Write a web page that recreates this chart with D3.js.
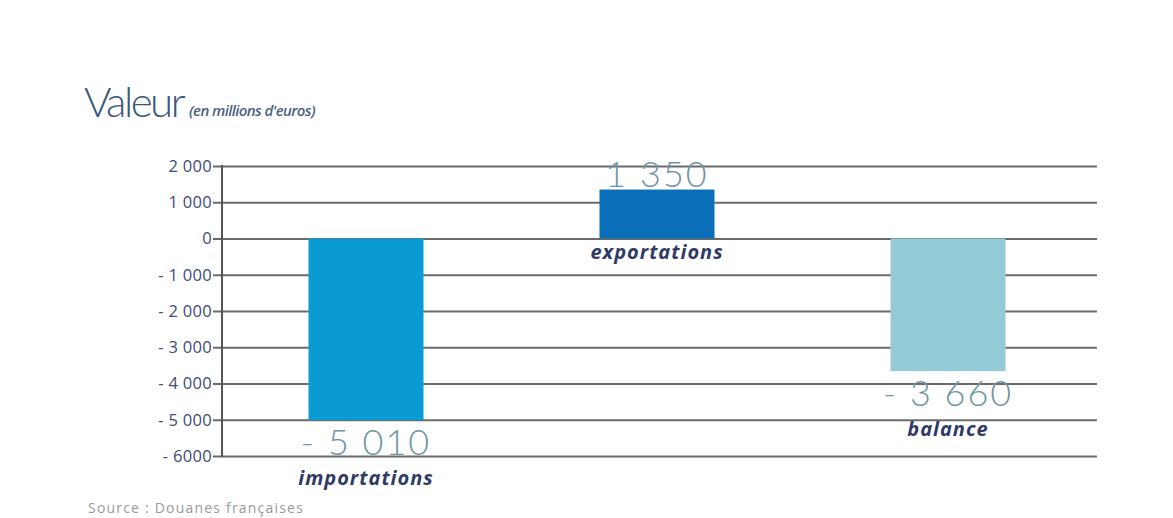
<!DOCTYPE html>
<html>
<head>
<meta charset="utf-8">
<script src="https://cdn.jsdelivr.net/npm/d3@7"></script>
<style>
  body { margin: 0; background: #fff; }
  svg { display: block; font-family: "Open Sans", sans-serif; }
</style>
</head>
<body>
<svg id="chart" width="1173" height="518"></svg>
<script>
// data
var categories = ["importations", "exportations", "balance"];
var values = [-5010, 1350, -3660];
var valueLabels = ["- 5 010", "1 350", "- 3 660"];
var barColors = ["#0a9bd2", "#0a6fb8", "#93cbd8"];
var tickValues = [2000, 1000, 0, -1000, -2000, -3000, -4000, -5000, -6000];
var tickLabels = ["2 000", "1 000", "0", "- 1 000", "- 2 000", "- 3 000", "- 4 000", "- 5 000", "- 6000"];

var svg = d3.select("#chart");

var plot = {left: 222, right: 1097, top: 166, bottom: 456};

var y = d3.scaleLinear()
  .domain([-6000, 2000])
  .range([plot.bottom, plot.top]);

var x = d3.scalePoint()
  .domain(categories)
  .range([366, 948]);

var barWidth = 115;

// title
svg.append("text")
  .attr("x", 84).attr("y", 117)
  .attr("fill", "#3b587c")
  .attr("font-family", "Lato, sans-serif")
  .attr("font-weight", 300)
  .attr("font-size", 42)
  .attr("letter-spacing", -2.5)
  .text("Valeur");

svg.append("text")
  .attr("x", 189).attr("y", 116)
  .attr("fill", "#4d5f86")
  .attr("font-style", "italic")
  .attr("font-weight", 600)
  .attr("font-size", 15)
  .attr("letter-spacing", -0.6)
  .text("(en millions d'euros)");

// gridlines + axis labels
var yAxis = d3.axisLeft(y)
  .tickValues(tickValues)
  .tickSize(-(plot.right - plot.left))
  .tickPadding(10)
  .tickFormat(function(d, i) { return tickLabels[i]; });

var gAxis = svg.append("g")
  .attr("transform", "translate(" + plot.left + ",0)")
  .call(yAxis)
  .attr("font-family", "'Open Sans', sans-serif");

gAxis.select(".domain").remove();
gAxis.selectAll(".tick line")
  .attr("stroke", "#6b6b6b")
  .attr("stroke-width", 2);
gAxis.selectAll(".tick text")
  .attr("fill", "#3d4d76")
  .attr("font-size", 16.5)
  .attr("font-weight", 500)
  .attr("letter-spacing", 0.3);

// small ticks left of the axis
gAxis.selectAll(".tick").append("line")
  .attr("x1", -9).attr("x2", 0)
  .attr("stroke", "#6b6b6b")
  .attr("stroke-width", 2);

// vertical axis line
svg.append("line")
  .attr("x1", plot.left).attr("x2", plot.left)
  .attr("y1", y(2000) - 1).attr("y2", y(-6000) + 1)
  .attr("stroke", "#555")
  .attr("stroke-width", 2);

// bars
svg.selectAll(".bar")
  .data(values)
  .enter()
  .append("rect")
    .attr("class", "bar")
    .attr("x", function(d, i) { return x(categories[i]) - barWidth / 2; })
    .attr("y", function(d) { return y(Math.max(d, 0)); })
    .attr("width", barWidth)
    .attr("height", function(d) { return Math.abs(y(d) - y(0)); })
    .attr("fill", function(d, i) { return barColors[i]; });

// value labels
svg.selectAll(".val")
  .data(values)
  .enter()
  .append("text")
    .attr("class", "val")
    .attr("x", function(d, i) { return x(categories[i]); })
    .attr("y", function(d) { return d > 0 ? y(d) - 3 : y(d) + 35; })
    .attr("text-anchor", "middle")
    .attr("fill", "#6f95a6")
    .attr("font-family", "Lato, sans-serif")
    .attr("font-weight", 300)
    .attr("font-size", 36)
    .attr("letter-spacing", 2)
    .text(function(d, i) { return valueLabels[i]; });

// category labels
svg.selectAll(".cat")
  .data(values)
  .enter()
  .append("text")
    .attr("class", "cat")
    .attr("x", function(d, i) { return x(categories[i]); })
    .attr("y", function(d) { return d > 0 ? y(0) + 20 : y(d) + 65; })
    .attr("text-anchor", "middle")
    .attr("fill", "#2f3b66")
    .attr("font-style", "italic")
    .attr("font-weight", 700)
    .attr("font-size", 20)
    .attr("letter-spacing", 1)
    .text(function(d, i) { return categories[i]; });

// source
svg.append("text")
  .attr("x", 88).attr("y", 513)
  .attr("fill", "#9a9a9a")
  .attr("font-size", 14)
  .attr("letter-spacing", 1.2)
  .text("Source : Douanes françaises");
</script>
</body>
</html>
